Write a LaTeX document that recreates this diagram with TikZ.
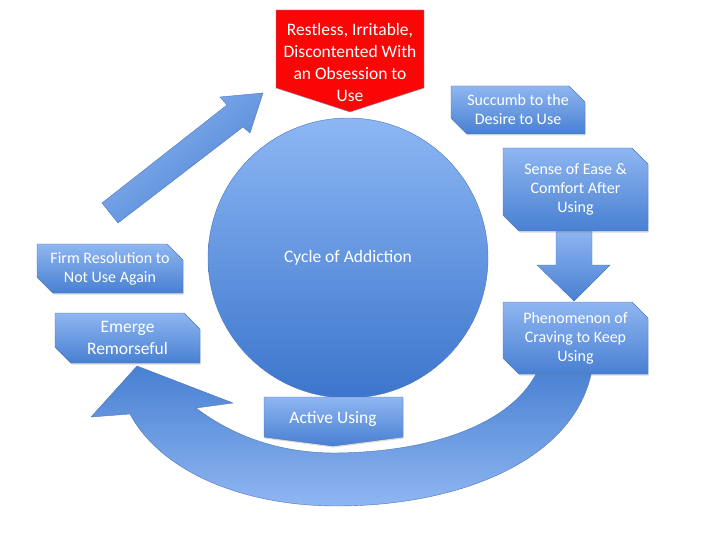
\documentclass[tikz,border=0pt]{standalone}
\usepackage{fontspec}
\setmainfont{Carlito}
\usepackage{tikz}
\usetikzlibrary{shapes.misc,shadows}
\definecolor{boxtop}{RGB}{143,182,241}
\definecolor{boxbot}{RGB}{72,128,210}
\definecolor{boxedge}{RGB}{80,118,186}
\definecolor{ringtop}{RGB}{140,183,244}
\definecolor{ringbot}{RGB}{60,117,204}
\definecolor{alarm}{RGB}{250,6,6}
\tikzset{
 snipbox/.style={chamfered rectangle,chamfered rectangle corners={north east,south west},
  chamfered rectangle xsep=8pt,chamfered rectangle ysep=8pt,inner sep=0pt,
  draw=boxedge,line width=.4pt,top color=boxtop,bottom color=boxbot,text=white,align=center,
  font=\fontsize{16}{19}\selectfont,drop shadow={shadow xshift=.6pt,shadow yshift=-1.5pt,opacity=.3}},
 bigtext/.style={font=\fontsize{17.5}{22}\selectfont},
 blockarrow/.style={draw=boxedge,line width=.4pt,top color=boxtop,bottom color=boxbot}
}
\begin{document}
\begin{tikzpicture}[x=1pt,y=-1pt]
\useasboundingbox (0,0) rectangle (720,540);
\draw[blockarrow,shading angle=40] (102,203) -- (227,105) -- (220,97) -- (263,93) -- (250,133) -- (243,127) -- (118,223) -- cycle;
\draw[blockarrow] (556,229) -- (592,229) -- (592,265) -- (610,265) -- (574,301) -- (537,265) -- (556,265) -- cycle;
\draw[draw=boxedge,line width=.4pt,top color=boxbot,bottom color=boxtop]
 (538,370) .. controls (515,420) and (440,452) .. (335,453) .. controls (270,453) and (225,430) .. (196,408)
 -- (233,403) -- (137,366) -- (91,417) -- (130,414)
 .. controls (160,470) and (240,506) .. (337,506) .. controls (460,506) and (575,460) .. (592,370) -- cycle;
\node[circle,minimum size=280pt,draw=boxedge,line width=.4pt,top color=ringtop,bottom color=ringbot,text=white,bigtext] (cycle) at (348,258) {Cycle of Addiction};
\draw[draw=boxedge!70,line width=.4pt,fill=alarm] (276,10) -- (424,10) -- (424,88) -- (350,112) -- (276,88) -- cycle;
\node[text=white,align=center,bigtext] (obsess) at (350,62) {Restless, Irritable,\\Discontented With\\an Obsession to\\Use};
\draw[blockarrow,drop shadow={shadow xshift=.6pt,shadow yshift=-1.5pt,opacity=.3}] (264,397) -- (403,397) -- (403,437) -- (333,446) -- (264,437) -- cycle;
\node[text=white,bigtext] (active) at (333,419) {Active Using};
\node[snipbox,minimum width=134pt,minimum height=48pt] (succumb) at (518,110) {Succumb to the\\Desire to Use};
\node[snipbox,minimum width=145pt,minimum height=83pt] (ease) at (575.5,189.5) {Sense of Ease \&\\Comfort After\\Using};
\node[snipbox,minimum width=145pt,minimum height=72pt] (craving) at (575.5,338) {Phenomenon of\\Craving to Keep\\Using};
\node[snipbox,minimum width=146pt,minimum height=49pt] (resolve) at (110,268.5) {Firm Resolution to\\Not Use Again};
\node[snipbox,bigtext,minimum width=145pt,minimum height=50pt] (remorse) at (127.5,338) {Emerge\\Remorseful};
\end{tikzpicture}
\end{document}
